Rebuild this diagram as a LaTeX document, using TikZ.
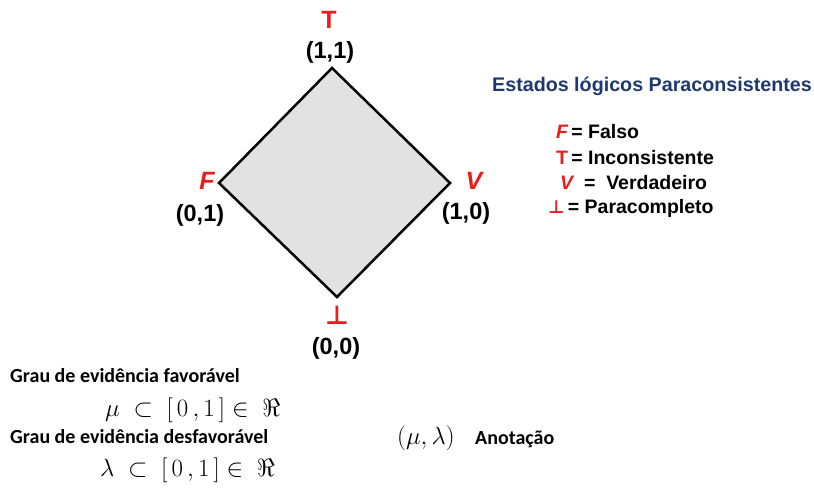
\documentclass[tikz,border=0pt]{standalone}
\usepackage{fontspec}
\setmainfont{Liberation Sans}
\newfontfamily\calib{Carlito}
\newfontfamily\dejavu{DejaVu Sans}
\definecolor{myred}{RGB}{230,30,30}
\definecolor{myblue}{RGB}{31,56,110}
\definecolor{diafill}{RGB}{226,226,226}
\tikzset{
  lbl/.style={font=\bfseries\fontsize{23.5}{25}\selectfont, inner sep=0pt},
  redlbl/.style={font=\bfseries\fontsize{25}{27}\selectfont, text=myred, inner sep=0pt},
  legend/.style={font=\bfseries\fontsize{19.5}{21}\selectfont, inner sep=0pt, anchor=west},
  cal/.style={font=\calib\bfseries\fontsize{20}{22}\selectfont, inner sep=0pt, anchor=west},
  mathtxt/.style={font=\fontsize{24.5}{26}\selectfont, inner sep=0pt, anchor=west},
}
\begin{document}
\begin{tikzpicture}[x=1pt,y=-1pt]
\useasboundingbox (0,0) rectangle (814,498);
\coordinate (top) at (332,68);
\coordinate (left) at (219,183);
\coordinate (right) at (450,183);
\coordinate (bot) at (337,297);
\draw[line width=2.5pt, fill=diafill, line join=miter] (top) -- (right) -- (bot) -- (left) -- cycle;
\node[redlbl] (tT) at (329,20) {T};
\node[lbl] (t11) at (330,52) {(1,1)};
\node[redlbl] (tF) at (207,181) {\itshape F};
\node[lbl] (t01) at (200,215) {(0,1)};
\node[redlbl] (tV) at (474,181) {\itshape V};
\node[lbl] (t10) at (466,213) {(1,0)};
\node[redlbl, font=\dejavu\bfseries\fontsize{26}{28}\selectfont] (tB) at (337,315) {⊥};
\node[lbl] (t00) at (336,348) {(0,0)};

\node[font=\bfseries\fontsize{19.7}{21}\selectfont, text=myblue, inner sep=0pt] (title) at (652,86) {Estados lógicos Paraconsistentes};
\node[legend] (l1) at (556,132) {\textcolor{myred}{\itshape F}\,= Falso};
\node[legend] (l2) at (556,158) {\textcolor{myred}{T}\,= Inconsistente};
\node[legend] (l3) at (560,183) {\textcolor{myred}{\itshape V}\ \ =\ \ Verdadeiro};
\node[legend] (l4) at (548,208) {\textcolor{myred}{\dejavu\bfseries\fontsize{18}{20}\selectfont ⊥}\,= Paracompleto};

\node[cal] (g1) at (10,376) {Grau de evidência favorável};
\node[mathtxt] (m1) at (105,410) {$\mu\ \subset\ [\,0\,,1\,]\in\ \Re$};
\node[cal] (g2) at (10,437) {Grau de evidência desfavorável};
\node[mathtxt] (m2) at (100,470) {$\lambda\ \subset\ [\,0\,,1\,]\in\ \Re$};
\node[mathtxt] (m3) at (397,438) {$(\mu,\lambda)$};
\node[cal] (an) at (475,439) {Anotação};
\end{tikzpicture}
\end{document}
